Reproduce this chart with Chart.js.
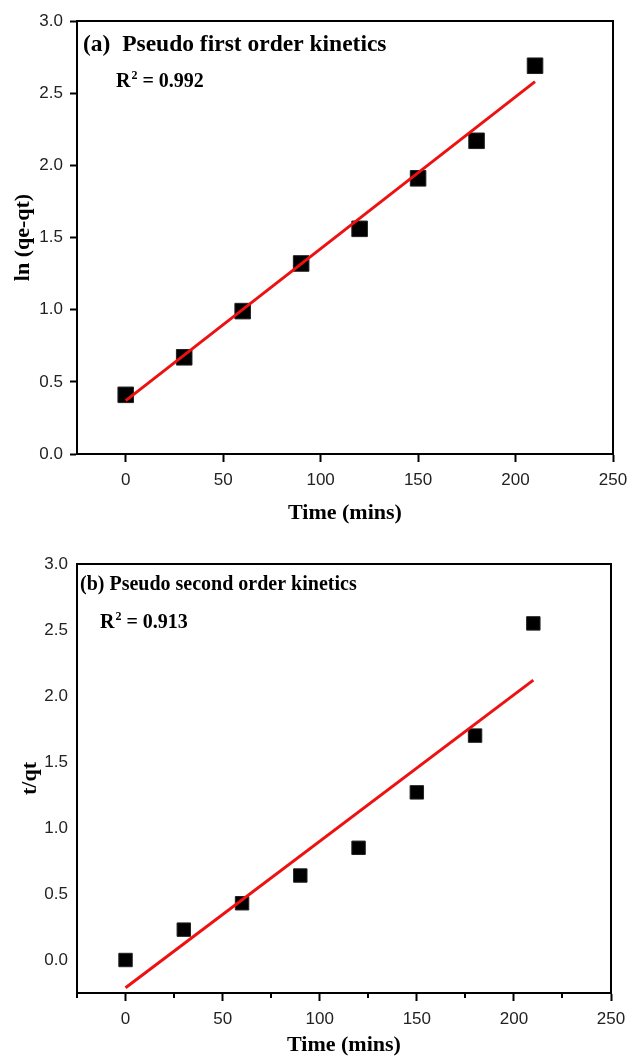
<!DOCTYPE html>
<html>
<head>
<meta charset="utf-8">
<script src="https://cdn.jsdelivr.net/npm/chart.js@4"></script>
<style>
  html, body { margin: 0; padding: 0; background: #fff; }
  .wrap { position: absolute; left: 0; width: 630px; }
</style>
</head>
<body>
<div class="wrap" style="top:0;height:530px"><canvas id="chartA"></canvas></div>
<div class="wrap" style="top:530px;height:529px"><canvas id="chartB"></canvas></div>
<script>
// data
const times = [0, 30, 60, 90, 120, 150, 180, 210];
const lnValues = [0.41, 0.67, 0.99, 1.32, 1.56, 1.91, 2.17, 2.69];
const lnFitX = [0, 210];
const lnFitY = [0.37, 2.58];
const tqtValues = [0.0, 0.23, 0.43, 0.64, 0.85, 1.27, 1.70, 2.55];
const tqtFitX = [0, 210];
const tqtFitY = [-0.21, 2.12];

const xTicks = [0, 50, 100, 150, 200, 250];
const xMinorTicks = [-25, 25, 75, 125, 175, 225];
const yTicks = [0, 0.5, 1.0, 1.5, 2.0, 2.5, 3.0];

const serif = "'Liberation Serif', 'Times New Roman', serif";
const sans = "'Liberation Sans', Arial, sans-serif";

function toPoints(xs, ys) {
  return xs.map((x, i) => ({ x: x, y: ys[i] }));
}

// box around the plot + panel texts + minor ticks
const framePlugin = {
  id: "frame",
  afterDraw(chart, args, opts) {
    const ctx = chart.ctx;
    const a = chart.chartArea;
    ctx.save();
    ctx.strokeStyle = "#000";
    ctx.lineWidth = 2;
    ctx.strokeRect(a.left, a.top, a.right - a.left, a.bottom - a.top);

    if (opts.minor) {
      const xs = chart.scales.x;
      ctx.beginPath();
      opts.minor.forEach((v) => {
        const px = Math.round(xs.getPixelForValue(v));
        ctx.moveTo(px, a.bottom);
        ctx.lineTo(px, a.bottom + 5);
      });
      ctx.stroke();
    }

    ctx.fillStyle = "#000";
    ctx.textBaseline = "middle";
    ctx.textAlign = "left";
    ctx.font = "bold " + opts.titleSize + "px " + serif;
    ctx.fillText(opts.title, a.left + opts.titleDx, a.top + opts.titleDy);

    // R² with a raised small 2
    const rx = a.left + opts.rDx;
    const ry = a.top + opts.rDy;
    ctx.font = "bold " + opts.rSize + "px " + serif;
    ctx.fillText("R", rx, ry);
    const w1 = ctx.measureText("R").width;
    ctx.font = "bold " + Math.round(opts.rSize * 0.6) + "px " + serif;
    ctx.fillText("2", rx + w1 + 1, ry - opts.rSize * 0.32);
    const w2 = ctx.measureText("2").width;
    ctx.font = "bold " + opts.rSize + "px " + serif;
    ctx.fillText(" = " + opts.r2, rx + w1 + w2 + 1, ry);
    ctx.restore();
  }
};

function makeChart(id, cfg) {
  return new Chart(document.getElementById(id), {
    data: {
      datasets: [
        {
          type: "line",
          data: toPoints(cfg.fitX, cfg.fitY),
          borderColor: "#ee1111",
          borderWidth: 3,
          pointRadius: 0,
          order: 0
        },
        {
          type: "scatter",
          data: toPoints(times, cfg.values),
          pointStyle: "rect",
          pointRadius: cfg.markRadius,
          backgroundColor: "#000",
          borderColor: "#222",
          borderWidth: 1,
          order: 1
        }
      ]
    },
    options: {
      responsive: true,
      maintainAspectRatio: false,
      animation: false,
      layout: { padding: cfg.padding },
      plugins: {
        legend: { display: false },
        tooltip: { enabled: false },
        frame: cfg.frame
      },
      scales: {
        x: {
          type: "linear",
          min: -25,
          max: 250,
          afterBuildTicks: (s) => { s.ticks = xTicks.map((v) => ({ value: v })); },
          afterFit: (s) => {
            s.height = cfg.xHeight;
            s.paddingLeft = 0;
            s.paddingRight = 0;
          },
          border: { color: "#000", width: 2 },
          grid: { drawOnChartArea: false, tickLength: 8, tickColor: "#000", tickWidth: 2 },
          ticks: {
            color: "#222",
            padding: cfg.xTickPad,
            maxRotation: 0,
            font: { family: sans, size: 17 }
          },
          title: {
            display: true,
            text: "Time (mins)",
            color: "#000",
            padding: { top: 0, bottom: cfg.xTitlePad },
            font: { family: serif, size: 22, weight: "bold" }
          }
        },
        y: {
          type: "linear",
          min: cfg.yMin,
          max: 3.0,
          afterBuildTicks: (s) => { s.ticks = yTicks.map((v) => ({ value: v })); },
          afterFit: (s) => {
            s.width = 77;
            s.paddingTop = 0;
            s.paddingBottom = 0;
          },
          border: { color: "#000", width: 2 },
          grid: {
            drawOnChartArea: false,
            drawTicks: cfg.yTickMarks,
            tickLength: 7,
            tickColor: "#000",
            tickWidth: 2
          },
          ticks: {
            color: "#222",
            padding: cfg.yTickPad,
            font: { family: sans, size: 17 },
            callback: (v) => Number(v).toFixed(1)
          },
          title: {
            display: true,
            text: cfg.yTitle,
            color: "#000",
            padding: { top: cfg.yTitlePad, bottom: 0 },
            font: { family: serif, size: 22, weight: "bold" }
          }
        }
      }
    },
    plugins: [framePlugin]
  });
}

makeChart("chartA", {
  values: lnValues,
  fitX: lnFitX,
  fitY: lnFitY,
  markRadius: 11,
  yMin: 0,
  yTitle: "ln (qe-qt)",
  yTickMarks: true,
  yTickPad: 7,
  yTitlePad: 10,
  xHeight: 76,
  xTickPad: 8,
  xTitlePad: 3,
  padding: { left: 0, top: 21, right: 17, bottom: 0 },
  frame: {
    title: "(a)  Pseudo first order kinetics",
    titleSize: 23.5,
    titleDx: 6,
    titleDy: 24,
    r2: "0.992",
    rSize: 20,
    rDx: 39,
    rDy: 61
  }
});

makeChart("chartB", {
  values: tqtValues,
  fitX: tqtFitX,
  fitY: tqtFitY,
  markRadius: 9.5,
  yMin: -0.25,
  yTitle: "t/qt",
  yTickMarks: false,
  yTickPad: 9,
  yTitlePad: 17,
  xHeight: 66,
  xTickPad: 8,
  xTitlePad: 0,
  padding: { left: 0, top: 34, right: 19, bottom: 0 },
  frame: {
    minor: xMinorTicks,
    title: "(b) Pseudo second order kinetics",
    titleSize: 20,
    titleDx: 3,
    titleDy: 21,
    r2: "0.913",
    rSize: 20,
    rDx: 23,
    rDy: 59
  }
});
</script>
</body>
</html>
